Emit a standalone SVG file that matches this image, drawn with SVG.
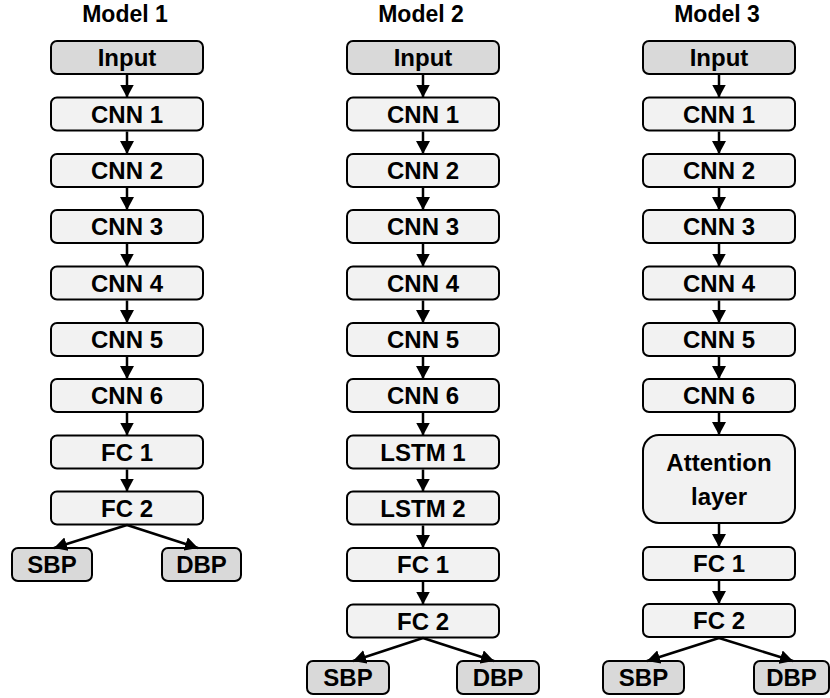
<svg xmlns="http://www.w3.org/2000/svg" width="830" height="698" viewBox="0 0 830 698">
  <style>
    .box { fill: #f2f2f2; stroke: #000; stroke-width: 2; }
    .io { fill: #d9d9d9; stroke: #000; stroke-width: 2; }
    .lbl { font-family: "Liberation Sans", Arial, sans-serif; font-weight: bold; font-size: 24px; text-anchor: middle; fill: #000; }
    .title { font-family: "Liberation Sans", Arial, sans-serif; font-weight: bold; font-size: 23px; text-anchor: middle; fill: #000; }
    .conn line { stroke: #000; stroke-width: 2.5; marker-end: url(#ah); }
  </style>
  <defs>
    <marker id="ah" markerUnits="userSpaceOnUse" markerWidth="14" markerHeight="14" refX="13" refY="7" orient="auto">
      <path d="M0,0 L13,7 L0,14 Z" fill="#000"/>
    </marker>
  </defs>

  <rect width="830" height="698" fill="#fff"/>

  <!-- column titles -->
  <text class="title" x="125" y="22">Model 1</text>
  <text class="title" x="421" y="22">Model 2</text>
  <text class="title" x="717" y="22">Model 3</text>

  <!-- Model 1 -->
  <g id="m1-input"><rect class="io" x="51" y="41" width="152" height="33" rx="6"/><text class="lbl" x="127" y="66">Input</text></g>
  <g id="m1-cnn1"><rect class="box" x="51" y="97.5" width="152" height="33" rx="6"/><text class="lbl" x="127" y="122.5">CNN 1</text></g>
  <g id="m1-cnn2"><rect class="box" x="51" y="154" width="152" height="33" rx="6"/><text class="lbl" x="127" y="179">CNN 2</text></g>
  <g id="m1-cnn3"><rect class="box" x="51" y="210" width="152" height="33" rx="6"/><text class="lbl" x="127" y="235">CNN 3</text></g>
  <g id="m1-cnn4"><rect class="box" x="51" y="266.5" width="152" height="33" rx="6"/><text class="lbl" x="127" y="291.5">CNN 4</text></g>
  <g id="m1-cnn5"><rect class="box" x="51" y="323" width="152" height="33" rx="6"/><text class="lbl" x="127" y="348">CNN 5</text></g>
  <g id="m1-cnn6"><rect class="box" x="51" y="379" width="152" height="33" rx="6"/><text class="lbl" x="127" y="404">CNN 6</text></g>
  <g id="m1-fc1"><rect class="box" x="51" y="435.5" width="152" height="33" rx="6"/><text class="lbl" x="127" y="460.5">FC 1</text></g>
  <g id="m1-fc2"><rect class="box" x="51" y="491.5" width="152" height="33" rx="6"/><text class="lbl" x="127" y="516.5">FC 2</text></g>
  <g id="m1-sbp"><rect class="io" x="12" y="548" width="80" height="33" rx="6"/><text class="lbl" x="52" y="573">SBP</text></g>
  <g id="m1-dbp"><rect class="io" x="162" y="548" width="79" height="33" rx="6"/><text class="lbl" x="201.5" y="573">DBP</text></g>

  <!-- Model 2 -->
  <g id="m2-input"><rect class="io" x="347" y="41" width="152" height="33" rx="6"/><text class="lbl" x="423" y="66">Input</text></g>
  <g id="m2-cnn1"><rect class="box" x="347" y="97.5" width="152" height="33" rx="6"/><text class="lbl" x="423" y="122.5">CNN 1</text></g>
  <g id="m2-cnn2"><rect class="box" x="347" y="154" width="152" height="33" rx="6"/><text class="lbl" x="423" y="179">CNN 2</text></g>
  <g id="m2-cnn3"><rect class="box" x="347" y="210" width="152" height="33" rx="6"/><text class="lbl" x="423" y="235">CNN 3</text></g>
  <g id="m2-cnn4"><rect class="box" x="347" y="266.5" width="152" height="33" rx="6"/><text class="lbl" x="423" y="291.5">CNN 4</text></g>
  <g id="m2-cnn5"><rect class="box" x="347" y="323" width="152" height="33" rx="6"/><text class="lbl" x="423" y="348">CNN 5</text></g>
  <g id="m2-cnn6"><rect class="box" x="347" y="379" width="152" height="33" rx="6"/><text class="lbl" x="423" y="404">CNN 6</text></g>
  <g id="m2-lstm1"><rect class="box" x="347" y="435.5" width="152" height="33" rx="6"/><text class="lbl" x="423" y="460.5">LSTM 1</text></g>
  <g id="m2-lstm2"><rect class="box" x="347" y="491.5" width="152" height="33" rx="6"/><text class="lbl" x="423" y="516.5">LSTM 2</text></g>
  <g id="m2-fc1"><rect class="box" x="347" y="548" width="152" height="33" rx="6"/><text class="lbl" x="423" y="573">FC 1</text></g>
  <g id="m2-fc2"><rect class="box" x="347" y="604.5" width="152" height="33" rx="6"/><text class="lbl" x="423" y="629.5">FC 2</text></g>
  <g id="m2-sbp"><rect class="io" x="307" y="661" width="82" height="33" rx="6"/><text class="lbl" x="348" y="686">SBP</text></g>
  <g id="m2-dbp"><rect class="io" x="457" y="661" width="82" height="33" rx="6"/><text class="lbl" x="498" y="686">DBP</text></g>

  <!-- Model 3 -->
  <g id="m3-input"><rect class="io" x="643" y="41" width="152" height="33" rx="6"/><text class="lbl" x="719" y="66">Input</text></g>
  <g id="m3-cnn1"><rect class="box" x="643" y="97.5" width="152" height="33" rx="6"/><text class="lbl" x="719" y="122.5">CNN 1</text></g>
  <g id="m3-cnn2"><rect class="box" x="643" y="154" width="152" height="33" rx="6"/><text class="lbl" x="719" y="179">CNN 2</text></g>
  <g id="m3-cnn3"><rect class="box" x="643" y="210" width="152" height="33" rx="6"/><text class="lbl" x="719" y="235">CNN 3</text></g>
  <g id="m3-cnn4"><rect class="box" x="643" y="266.5" width="152" height="33" rx="6"/><text class="lbl" x="719" y="291.5">CNN 4</text></g>
  <g id="m3-cnn5"><rect class="box" x="643" y="323" width="152" height="33" rx="6"/><text class="lbl" x="719" y="348">CNN 5</text></g>
  <g id="m3-cnn6"><rect class="box" x="643" y="379" width="152" height="33" rx="6"/><text class="lbl" x="719" y="404">CNN 6</text></g>
  <g id="m3-attention"><rect class="box" x="643" y="435" width="152" height="88" rx="16"/><text class="lbl" x="719" y="471">Attention</text><text class="lbl" x="719" y="505">layer</text></g>
  <g id="m3-fc1"><rect class="box" x="643" y="547" width="152" height="33" rx="6"/><text class="lbl" x="719" y="572">FC 1</text></g>
  <g id="m3-fc2"><rect class="box" x="643" y="604" width="152" height="33" rx="6"/><text class="lbl" x="719" y="629">FC 2</text></g>
  <g id="m3-sbp"><rect class="io" x="603" y="661" width="81" height="33" rx="6"/><text class="lbl" x="643.5" y="686">SBP</text></g>
  <g id="m3-dbp"><rect class="io" x="754" y="661" width="75" height="33" rx="6"/><text class="lbl" x="791.5" y="686">DBP</text></g>

  <!-- connectors -->
  <g id="connectors" class="conn">
    <!-- Model 1 -->
    <line x1="127" y1="75" x2="127" y2="97.5"/>
    <line x1="127" y1="131.5" x2="127" y2="154"/>
    <line x1="127" y1="188" x2="127" y2="210"/>
    <line x1="127" y1="244" x2="127" y2="266.5"/>
    <line x1="127" y1="300.5" x2="127" y2="323"/>
    <line x1="127" y1="357" x2="127" y2="379"/>
    <line x1="127" y1="413" x2="127" y2="435.5"/>
    <line x1="127" y1="469.5" x2="127" y2="491.5"/>
    <line x1="127" y1="525" x2="54" y2="548"/>
    <line x1="127" y1="525" x2="198" y2="548"/>
    <!-- Model 2 -->
    <line x1="423" y1="75" x2="423" y2="97.5"/>
    <line x1="423" y1="131.5" x2="423" y2="154"/>
    <line x1="423" y1="188" x2="423" y2="210"/>
    <line x1="423" y1="244" x2="423" y2="266.5"/>
    <line x1="423" y1="300.5" x2="423" y2="323"/>
    <line x1="423" y1="357" x2="423" y2="379"/>
    <line x1="423" y1="413" x2="423" y2="435.5"/>
    <line x1="423" y1="469.5" x2="423" y2="491.5"/>
    <line x1="423" y1="525.5" x2="423" y2="548"/>
    <line x1="423" y1="582" x2="423" y2="604.5"/>
    <line x1="423" y1="638" x2="353" y2="661"/>
    <line x1="423" y1="638" x2="494" y2="661"/>
    <!-- Model 3 -->
    <line x1="719" y1="75" x2="719" y2="97.5"/>
    <line x1="719" y1="131.5" x2="719" y2="154"/>
    <line x1="719" y1="188" x2="719" y2="210"/>
    <line x1="719" y1="244" x2="719" y2="266.5"/>
    <line x1="719" y1="300.5" x2="719" y2="323"/>
    <line x1="719" y1="357" x2="719" y2="379"/>
    <line x1="719" y1="413" x2="719" y2="435"/>
    <line x1="719" y1="524" x2="719" y2="547"/>
    <line x1="719" y1="581" x2="719" y2="604"/>
    <line x1="719" y1="638" x2="647" y2="661"/>
    <line x1="719" y1="638" x2="793" y2="661"/>
  </g>
</svg>
